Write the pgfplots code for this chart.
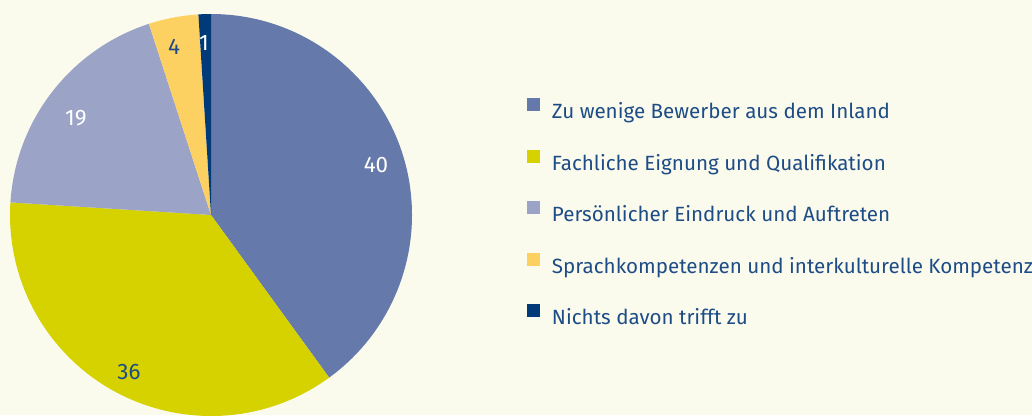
\documentclass[border=0pt]{standalone}
\usepackage{fontspec}
\setmainfont{Fira Sans}
\usepackage{pgfplots}
\pgfplotsset{compat=1.18}
\usepackage{pgfplotstable}

\definecolor{bg}{RGB}{251,251,237}
\definecolor{sliceA}{RGB}{101,122,170}
\definecolor{sliceB}{RGB}{214,210,0}
\definecolor{sliceC}{RGB}{155,163,199}
\definecolor{sliceD}{RGB}{253,208,98}
\definecolor{sliceE}{RGB}{0,58,120}
\definecolor{txt}{RGB}{29,76,134}

% share of answers, clockwise from 12 o'clock; lx/ly = label position
\pgfplotstableread{
value colour labelcolour lx ly
40 sliceA white  0.821  0.249
36 sliceB txt   -0.408 -0.781
19 sliceC white -0.672  0.483
4  sliceD txt   -0.184  0.836
1  sliceE white -0.035  0.856
}\piedata

\begin{document}
\begin{tikzpicture}
\begin{axis}[
    hide axis,
    x=100.5pt, y=100.5pt,
    xmin=-1.0498, xmax=4.0846,
    ymin=-0.995, ymax=1.0697,
    legend style={at={(axis cs:1.572,0.01)}, anchor=west,
        draw=none, fill=none, inner sep=0pt,
        font=\fontsize{10.3}{12}\selectfont, text=txt,
        row sep=14.2pt, nodes={inner sep=0pt},
        /tikz/every odd column/.append style={column sep=6pt}},
    legend cell align=left,
    legend image code/.code={\path[#1] (0pt,0.5pt) rectangle (6.3pt,6.8pt);},
]
\pgfplotsextra{
  \fill[bg] (axis cs:-1.0498,-0.995) rectangle (axis cs:4.0846,1.0697);
  \gdef\startang{90}
  \foreach \i in {0,...,4}{
    \pgfplotstablegetelem{\i}{value}\of\piedata \let\val\pgfplotsretval
    \pgfplotstablegetelem{\i}{colour}\of\piedata \let\col\pgfplotsretval
    \pgfmathsetmacro\endang{\startang-3.6*\val}
    \fill[\col] (axis cs:0,0) -- (axis cs:{cos(\startang)},{sin(\startang)})
        arc[start angle=\startang, end angle=\endang, radius=100.5pt] -- cycle;
    \xdef\startang{\endang}
  }
  \foreach \i in {0,...,4}{
    \pgfplotstablegetelem{\i}{value}\of\piedata \let\val\pgfplotsretval
    \pgfplotstablegetelem{\i}{labelcolour}\of\piedata \let\lcol\pgfplotsretval
    \pgfplotstablegetelem{\i}{lx}\of\piedata \let\lx\pgfplotsretval
    \pgfplotstablegetelem{\i}{ly}\of\piedata \let\ly\pgfplotsretval
    \node[text=\lcol, inner sep=0pt, font=\fontsize{11.2}{12}\selectfont]
        at (axis cs:\lx,\ly) {\val};
  }
}
\addlegendimage{fill=sliceA, draw=none}
\addlegendentry{Zu wenige Bewerber aus dem Inland}
\addlegendimage{fill=sliceB, draw=none}
\addlegendentry{Fachliche Eignung und Qualifikation}
\addlegendimage{fill=sliceC, draw=none}
\addlegendentry{Persönlicher Eindruck und Auftreten}
\addlegendimage{fill=sliceD, draw=none}
\addlegendentry{Sprachkompetenzen und interkulturelle Kompetenz}
\addlegendimage{fill=sliceE, draw=none}
\addlegendentry{Nichts davon trifft zu}
\end{axis}
\pgfresetboundingbox
\useasboundingbox (current axis.south west) rectangle (current axis.north east);
\end{tikzpicture}
\end{document}
